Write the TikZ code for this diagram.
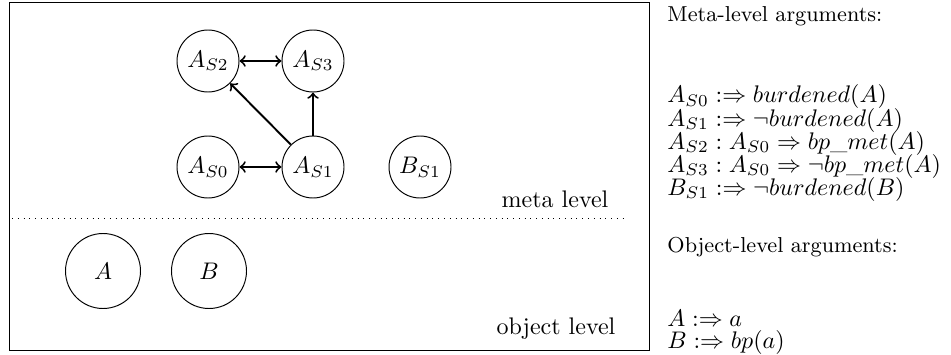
\documentclass[tikz,border=0pt]{standalone}
\usetikzlibrary{arrows}
\begin{document}
\begin{tikzpicture}[x=0.41667pt,y=-0.41667pt,
  arg/.style={draw,circle,inner sep=0pt,minimum size=62*0.41667pt},
  objarg/.style={draw,circle,inner sep=0pt,minimum size=75*0.41667pt},
  att/.style={thick,->},
  batt/.style={thick,<->},
  line/.style={anchor=base west,inner sep=0pt,font=\fontsize{9.6}{11}\selectfont},
  title/.style={anchor=base west,inner sep=0pt,font=\fontsize{9}{11}\selectfont},
  lvl/.style={anchor=base,inner sep=0pt}]
\useasboundingbox (0,0) rectangle (951,354);
\draw (9.5,2) rectangle (649,350.5);
\draw[dotted] (12,218) -- (627,218);
% meta-level arguments
\node[arg] (as2) at (208,61) {$A_{S2}$};
\node[arg] (as3) at (313,61) {$A_{S3}$};
\node[arg] (as0) at (208,167) {$A_{S0}$};
\node[arg] (as1) at (313,167) {$A_{S1}$};
\node[arg] (bs1) at (420,167) {$B_{S1}$};
% object-level arguments
\node[objarg] (a) at (103,271) {$A$};
\node[objarg] (b) at (209,271) {$B$};
% attacks
\draw[batt] (as2) -- (as3);
\draw[batt] (as0) -- (as1);
\draw[att] (as1) -- (as2);
\draw[att] (as1) -- (as3);
% level labels
\node[lvl] (ml) at (555,207) {meta level};
\node[lvl] (ol) at (556,334) {object level};
% legend
\node[title] (mt) at (667,22) {Meta-level arguments:};
\node[line] (m0) at (667,103) {$A_{S0} :\Rightarrow burdened(A)$};
\node[line] (m1) at (667,126) {$A_{S1} :\Rightarrow \neg burdened(A)$};
\node[line] (m2) at (667,149) {$A_{S2} : A_{S0} \Rightarrow bp\_met(A)$};
\node[line] (m3) at (667,172) {$A_{S3} : A_{S0} \Rightarrow \neg bp\_met(A)$};
\node[line] (m4) at (667,195) {$B_{S1} :\Rightarrow \neg burdened(B)$};
\node[title] (ot) at (667,252) {Object-level arguments:};
\node[line] (o0) at (667,326) {$A :\Rightarrow a$};
\node[line] (o1) at (667,348) {$B :\Rightarrow bp(a)$};
\end{tikzpicture}
\end{document}
